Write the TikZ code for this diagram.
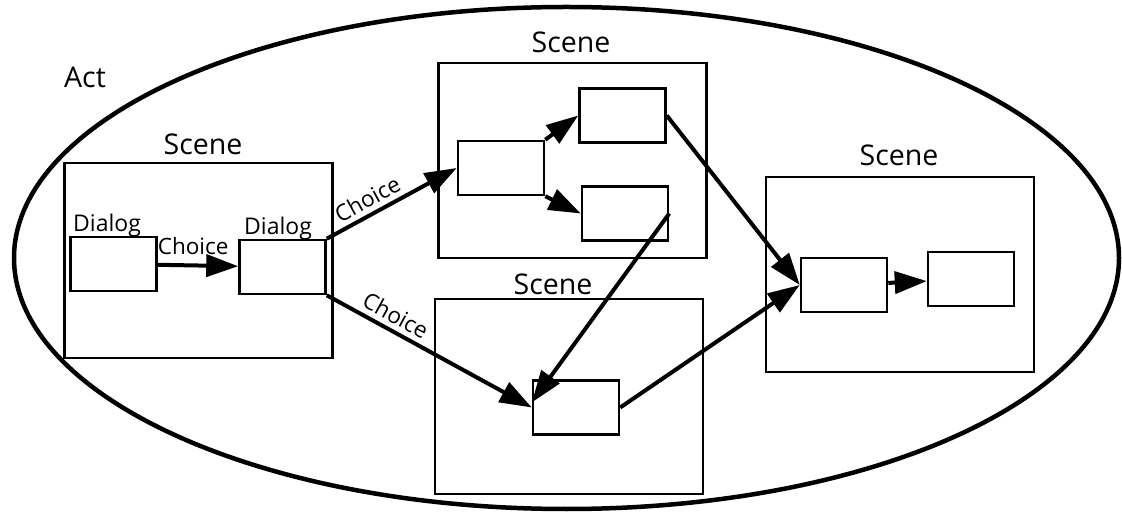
\documentclass[tikz,border=0pt]{standalone}
\usepackage{fontspec}
\setmainfont{Open Sans}
\usetikzlibrary{arrows.meta}

\tikzset{
  scenebox/.style={draw, line width=2.5pt, minimum width=268pt, minimum height=195pt, inner sep=0pt},
  dlgbox/.style={draw, line width=2.5pt, minimum width=86pt, minimum height=54pt, inner sep=0pt},
  biglbl/.style={font=\fontsize{28.5}{34}\selectfont, inner sep=0pt},
  smalllbl/.style={font=\fontsize{23}{28}\selectfont, inner sep=0pt},
  choice/.style={font=\fontsize{22.5}{27}\selectfont, inner xsep=2pt, inner ysep=5pt},
  arr/.style={-{Triangle[length=32pt,width=22pt]}, line width=4pt}
}

\begin{document}
\begin{tikzpicture}[x=1pt, y=-1pt]
                  \useasboundingbox (0,0) rectangle (1122,518);

                  \draw[line width=4.5pt] (566.5,258) ellipse [x radius=552.5, y radius=251]; %act
                  \node[biglbl, anchor=base west] (actlbl) at (64,88) {Act};

                  % scenes
                  \node[scenebox] (s1) at (198.5,260.5) {};
                  \node[scenebox] (s2) at (572.5,160.5) {};
                  \node[scenebox] (s3) at (569,396.5) {};
                  \node[scenebox] (s4) at (900,274.5) {};
                  \node[biglbl, anchor=base] (s1lbl) at (203,155) {Scene};
                  \node[biglbl, anchor=base] (s2lbl) at (571,53) {Scene};
                  \node[biglbl, anchor=base] (s3lbl) at (553,295) {Scene};
                  \node[biglbl, anchor=base] (s4lbl) at (899,166) {Scene};

                  % dialogs
                  \node[dlgbox] (dA) at (113.5,264) {};
                  \node[dlgbox] (dB) at (282.5,267) {};
                  \node[smalllbl, anchor=base west] (dAlbl) at (73,232) {Dialog};
                  \node[smalllbl, anchor=base west] (dBlbl) at (244,235) {Dialog};

                  \node[dlgbox] (dC) at (501,168) {};
                  \node[dlgbox] (dD) at (622.5,115.5) {};
                  \node[dlgbox] (dE) at (625,213.5) {};
                  \node[dlgbox] (dF) at (576,407.5) {};
                  \node[dlgbox] (dG) at (844,285) {};
                  \node[dlgbox] (dH) at (971,279) {};

                  % choices
                  \draw[arr] (dA) -- (dB) node[choice, pos=0.44, above, yshift=4pt] {Choice};
                  \draw[arr] (dB.north east) -- (dC.west) node[choice, pos=0.37, above, sloped] {Choice};
                  \draw[arr] (dB.south east) -- (dF.west) node[choice, pos=0.30, above, sloped] {Choice};

                  \draw[arr] (dC.north east) -- (dD.west);
                  \draw[arr] (dC.south east) -- (dE.west);
                  \draw[arr] (dE.east) -- ([yshift=5pt]dF.west);
                  \draw[arr] (dD.east) -- (dG.west);
                  \draw[arr] (dF.east) -- (dG.west);
                  \draw[arr] (dG) -- (dH);
              \end{tikzpicture}
\end{document}
